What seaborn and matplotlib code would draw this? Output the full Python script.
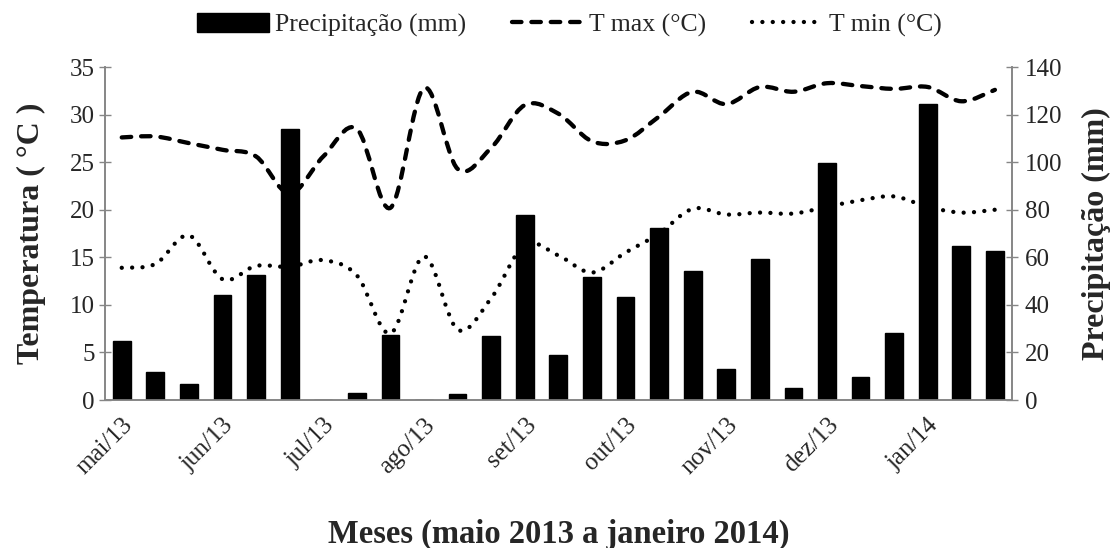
import numpy as np
import pandas as pd
import matplotlib
matplotlib.use("Agg")
import matplotlib.pyplot as plt
from matplotlib.path import Path
from matplotlib.patches import PathPatch, Patch
from matplotlib.lines import Line2D
import seaborn as sns

# dados decendiais, maio/2013 a janeiro/2014 (3 decendios por mes)
meses = ["mai/13", "jun/13", "jul/13", "ago/13", "set/13", "out/13", "nov/13", "dez/13", "jan/14"]
decendios = ["1", "2", "3"]

precipitacao = [24.7, 11.7, 6.6, 44.2, 52.5, 114.0, 0.0, 2.8, 27.2,
                0.0, 2.5, 26.9, 77.9, 18.9, 51.6, 43.2, 72.4, 54.2,
                13.0, 59.3, 5.2, 99.8, 9.8, 28.3, 124.6, 64.8, 62.8]
t_max = [27.6, 27.7, 27.0, 26.3, 25.6, 21.7, 25.6, 28.5, 20.2,
         32.8, 24.3, 26.5, 31.0, 30.1, 27.2, 27.3, 29.8, 32.4,
         31.1, 32.9, 32.4, 33.3, 33.0, 32.7, 32.9, 31.4, 32.6]
t_min = [13.9, 14.3, 17.3, 12.7, 14.1, 14.0, 14.7, 13.1, 7.0,
         15.1, 7.4, 10.7, 16.3, 15.2, 13.4, 15.5, 17.5, 20.1,
         19.5, 19.7, 19.6, 20.3, 21.0, 21.4, 20.3, 19.7, 20.0]

periodos = [f"{m} d{d}" for m in meses for d in decendios]
df = pd.DataFrame({"periodo": periodos, "precip": precipitacao,
                   "tmax": t_max, "tmin": t_min})

cinza = "#868686"


def curva_suave(y):
    # linha suavizada (bezier pelos pontos, estilo planilha)
    pts = np.column_stack([np.arange(len(y), dtype=float), np.asarray(y, dtype=float)])
    n = len(pts)
    verts = [pts[0]]
    codes = [Path.MOVETO]
    for i in range(n - 1):
        p0 = pts[max(i - 1, 0)]
        p1 = pts[i]
        p2 = pts[i + 1]
        p3 = pts[min(i + 2, n - 1)]
        verts += [p1 + (p2 - p0) / 6, p2 - (p3 - p1) / 6, p2]
        codes += [Path.CURVE4] * 3
    return Path(verts, codes)


sns.set_style("white")
plt.rcParams["font.family"] = ["Liberation Serif", "DejaVu Serif"]

fig, ax = plt.subplots(figsize=(11.13, 5.48), dpi=100)
fig.subplots_adjust(left=0.0943, right=0.909, bottom=0.270, top=0.8777)
ax2 = ax.twinx()

# barras de precipitacao (eixo da direita, desenhadas por cima das linhas)
sns.barplot(data=df, x="periodo", y="precip", order=periodos, color="black",
            saturation=1, width=0.53, edgecolor="black", linewidth=1, ax=ax2)

estilo_max = dict(color="black", lw=3.1, ls=(0, (2.2, 2.3)))
estilo_min = dict(color="black", lw=3.1, ls=(0, (0.01, 2.4)))
ax.add_patch(PathPatch(curva_suave(df["tmax"]), fill=False, edgecolor="black",
                       lw=estilo_max["lw"], ls=estilo_max["ls"], capstyle="round"))
ax.add_patch(PathPatch(curva_suave(df["tmin"]), fill=False, edgecolor="black",
                       lw=estilo_min["lw"], ls=estilo_min["ls"], capstyle="round"))

ax.set_xlim(-0.5, len(periodos) - 0.5)
ax.set_ylim(0, 35)
ax2.set_ylim(0, 140)

ax.set_xticks(np.arange(0, len(periodos), 3), meses)
ax.set_xticks(np.arange(-0.5, len(periodos), 1), minor=True)
ax.tick_params(axis="x", which="major", length=0, pad=10, labelsize=18, labelrotation=45)
ax.tick_params(axis="x", which="minor", length=13, width=1, direction="inout", color=cinza)
for lbl in ax.get_xticklabels():
    lbl.set_ha("right")
    lbl.set_rotation_mode("anchor")

ax.set_yticks(range(0, 36, 5))
ax2.set_yticks(range(0, 141, 20))
ax.tick_params(axis="y", length=9, width=1, direction="inout", color=cinza, labelsize=18, pad=3)
ax2.tick_params(axis="y", length=9, width=1, direction="inout", color=cinza, labelsize=18, pad=5)

for a in (ax, ax2):
    a.spines["top"].set_visible(False)
    for s in ("left", "right", "bottom"):
        a.spines[s].set_color(cinza)
        a.spines[s].set_linewidth(1.2)

ax.set_ylabel("Temperatura ( °C )", fontsize=23, fontweight="bold", labelpad=17)
ax2.set_ylabel("Precipitação (mm)", fontsize=23, fontweight="bold", labelpad=14)
ax.set_xlabel("Meses (maio 2013 a janeiro 2014)", fontsize=23.5, fontweight="bold", labelpad=29)

handles = [Patch(facecolor="black", edgecolor="black"),
           Line2D([], [], dash_capstyle="round", **estilo_max),
           Line2D([], [], dash_capstyle="round", **estilo_min)]
fig.legend(handles, ["Precipitação (mm)", "T max (°C)", "T min (°C)"],
           loc="center", bbox_to_anchor=(0.512, 0.955), ncol=3, frameon=False,
           fontsize=18.5, handlelength=2.8, handleheight=0.75, handletextpad=0.2,
           columnspacing=1.8)

fig.savefig("out.png", dpi=100)
